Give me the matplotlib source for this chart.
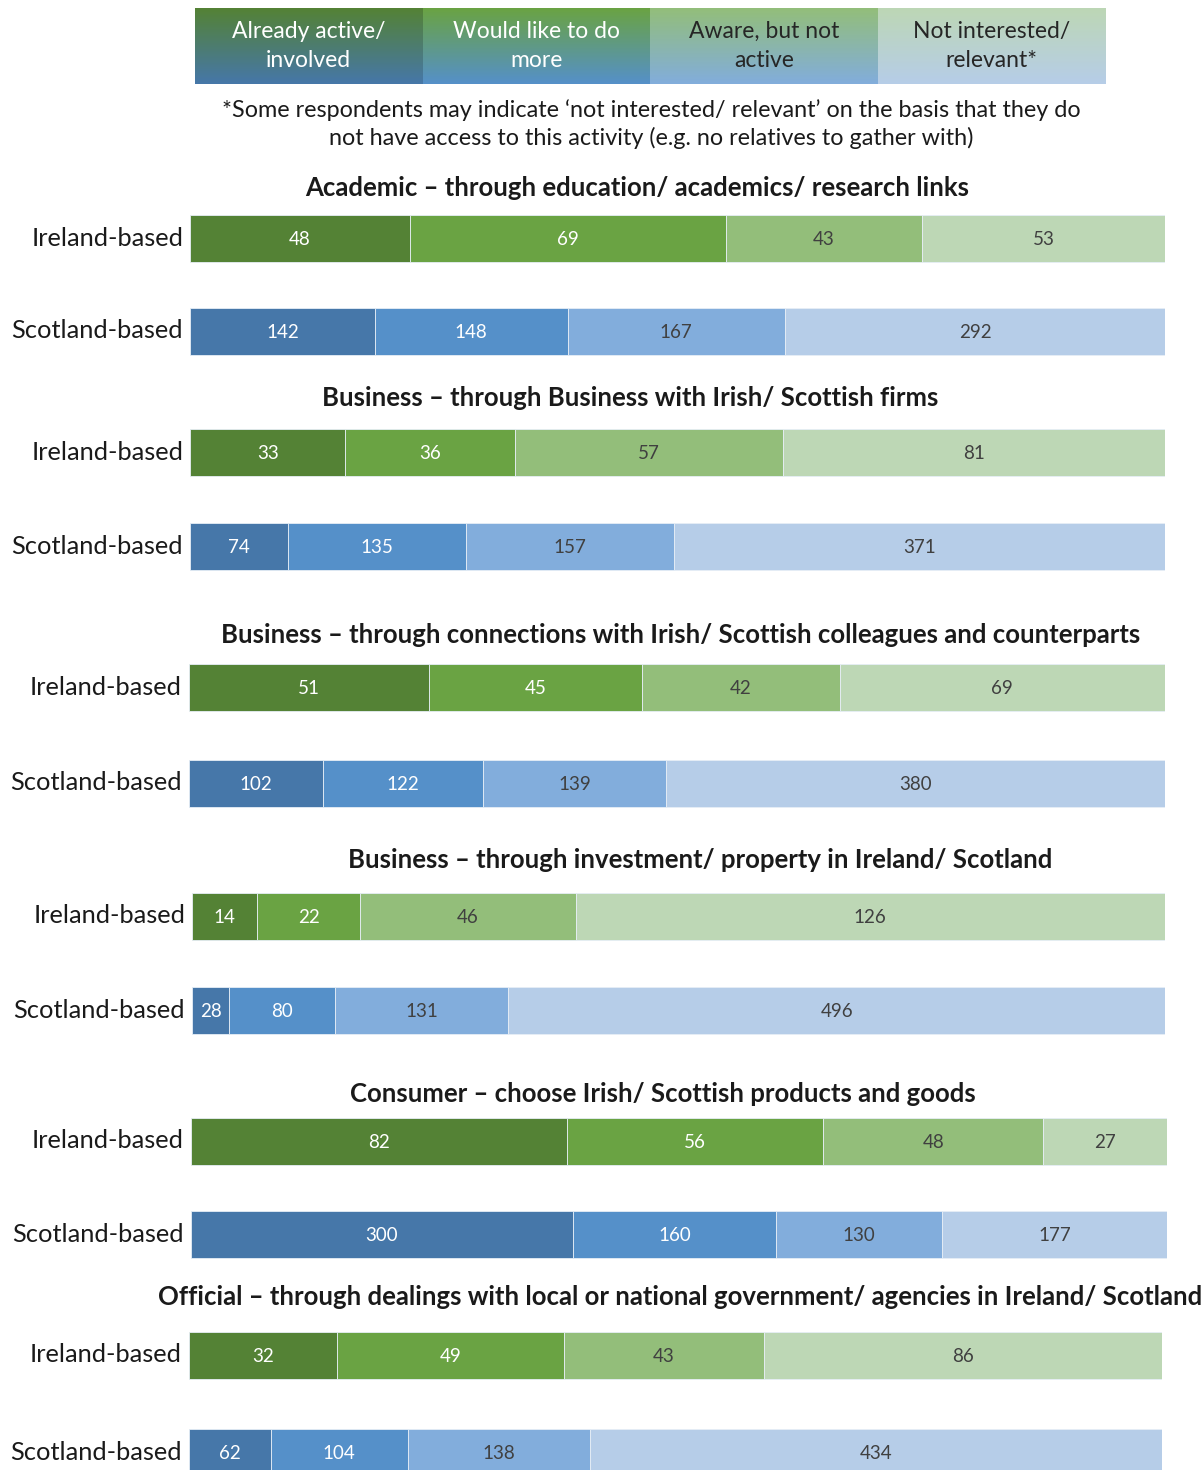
import numpy as np
import matplotlib
matplotlib.use("Agg")
import matplotlib.pyplot as plt
from matplotlib.colors import to_rgb

plt.rcParams['font.family'] = ['Lato', 'DejaVu Sans']

# ---------------- data ----------------
categories = ["Already active/\ninvolved", "Would like to do\nmore", "Aware, but not\nactive", "Not interested/\nrelevant*"]
groups = ["Ireland-based", "Scotland-based"]
sections = [
    "Academic \u2013 through education/ academics/ research links",
    "Business \u2013 through Business with Irish/ Scottish firms",
    "Business \u2013 through connections with Irish/ Scottish colleagues and counterparts",
    "Business \u2013 through investment/ property in Ireland/ Scotland",
    "Consumer \u2013 choose Irish/ Scottish products and goods",
    "Official \u2013 through dealings with local or national government/ agencies in Ireland/ Scotland",
]
ireland_vals = [
    [48, 69, 43, 53],
    [33, 36, 57, 81],
    [51, 45, 42, 69],
    [14, 22, 46, 126],
    [82, 56, 48, 27],
    [32, 49, 43, 86],
]
scotland_vals = [
    [142, 148, 167, 292],
    [74, 135, 157, 371],
    [102, 122, 139, 380],
    [28, 80, 131, 496],
    [300, 160, 130, 177],
    [62, 104, 138, 434],
]
footnote = ("*Some respondents may indicate \u2018not interested/ relevant\u2019 on the basis that they do\n"
            "not have access to this activity (e.g. no relatives to gather with)")

# ---------------- style ----------------
greens = ["#548235", "#6AA343", "#93BE7A", "#BDD7B5"]
blues = ["#4677A9", "#5590C9", "#82ADDC", "#B6CDE8"]
label_colors = ["white", "white", "#404040", "#404040"]
legend_text_colors = ["white", "white", "#262626", "#262626"]

W, H = 1201, 1470
fig = plt.figure(figsize=(W / 100, H / 100), dpi=100)

def fx(px):
    return px / W

def fy(py):
    return 1 - py / H

# legend with vertical gradients
leg_x0, leg_x1, leg_y0, leg_y1 = 195, 1105, 8, 84
bw = (leg_x1 - leg_x0) / 4
for i, cat in enumerate(categories):
    ax = fig.add_axes([fx(leg_x0 + i * bw), fy(leg_y1), fx(bw), (leg_y1 - leg_y0) / H])
    top = np.array(to_rgb(greens[i]))
    bot = np.array(to_rgb(blues[i]))
    t = np.linspace(0, 1, 100)[:, None]
    grad = top[None, :] * (1 - t) + bot[None, :] * t
    ax.imshow(grad[:, None, :].repeat(2, axis=1), aspect='auto', extent=[0, 1, 0, 1])
    ax.set_axis_off()
    ax.text(0.5, 0.5, cat, ha='center', va='center', fontsize=16.5,
            color=legend_text_colors[i], linespacing=1.5, transform=ax.transAxes)

fig.text(fx(651), fy(124), footnote, ha='center', va='center', fontsize=16.8,
         color='#1a1a1a', linespacing=1.35)

# section layout (pixels)
title_pos = [(637, 188, 'center'), (630, 398, 'center'), (681, 635, 'center'),
             (700, 860, 'center'), (663, 1094, 'center'), (158, 1297, 'left')]
bar_centers = [(238, 331), (452, 546), (687, 783), (916, 1010), (1141, 1234), (1355, 1452)]
bar_x = [(190, 1165), (190, 1165), (189, 1165), (192, 1165), (191, 1167), (189, 1162)]
bar_h_px = 47

for s, title in enumerate(sections):
    tx, ty, ha = title_pos[s]
    fig.text(fx(tx), fy(ty), title, ha=ha, va='center', fontsize=18.5,
             fontweight='bold', color='#1a1a1a')
    c1, c2 = bar_centers[s]
    gap = c2 - c1
    top_px = c1 - gap / 2
    bot_px = c2 + gap / 2
    x0, x1 = bar_x[s]
    ax = fig.add_axes([fx(x0), fy(bot_px), fx(x1 - x0), (bot_px - top_px) / H])
    ax.set_xlim(0, 1)
    ax.set_ylim(1.5, -0.5)
    ax.set_axis_off()
    for g, (vals, cols) in enumerate([(ireland_vals[s], greens), (scotland_vals[s], blues)]):
        vals = np.array(vals, dtype=float)
        frac = vals / vals.sum()
        left = np.concatenate([[0], np.cumsum(frac)[:-1]])
        ax.barh([g] * 4, frac, left=left, height=bar_h_px / gap, color=cols,
                edgecolor='#e6eef6', linewidth=0.6)
        for k in range(4):
            ax.text(left[k] + frac[k] / 2, g + 0.02, f"{int(vals[k])}", ha='center', va='center',
                    fontsize=13.5, color=label_colors[k])
        cy = c1 if g == 0 else c2
        fig.text(fx(x0 - 7), fy(cy), groups[g], ha='right', va='center',
                 fontsize=18.3, color='#1a1a1a')

fig.savefig("out.png", dpi=100, facecolor='white')
